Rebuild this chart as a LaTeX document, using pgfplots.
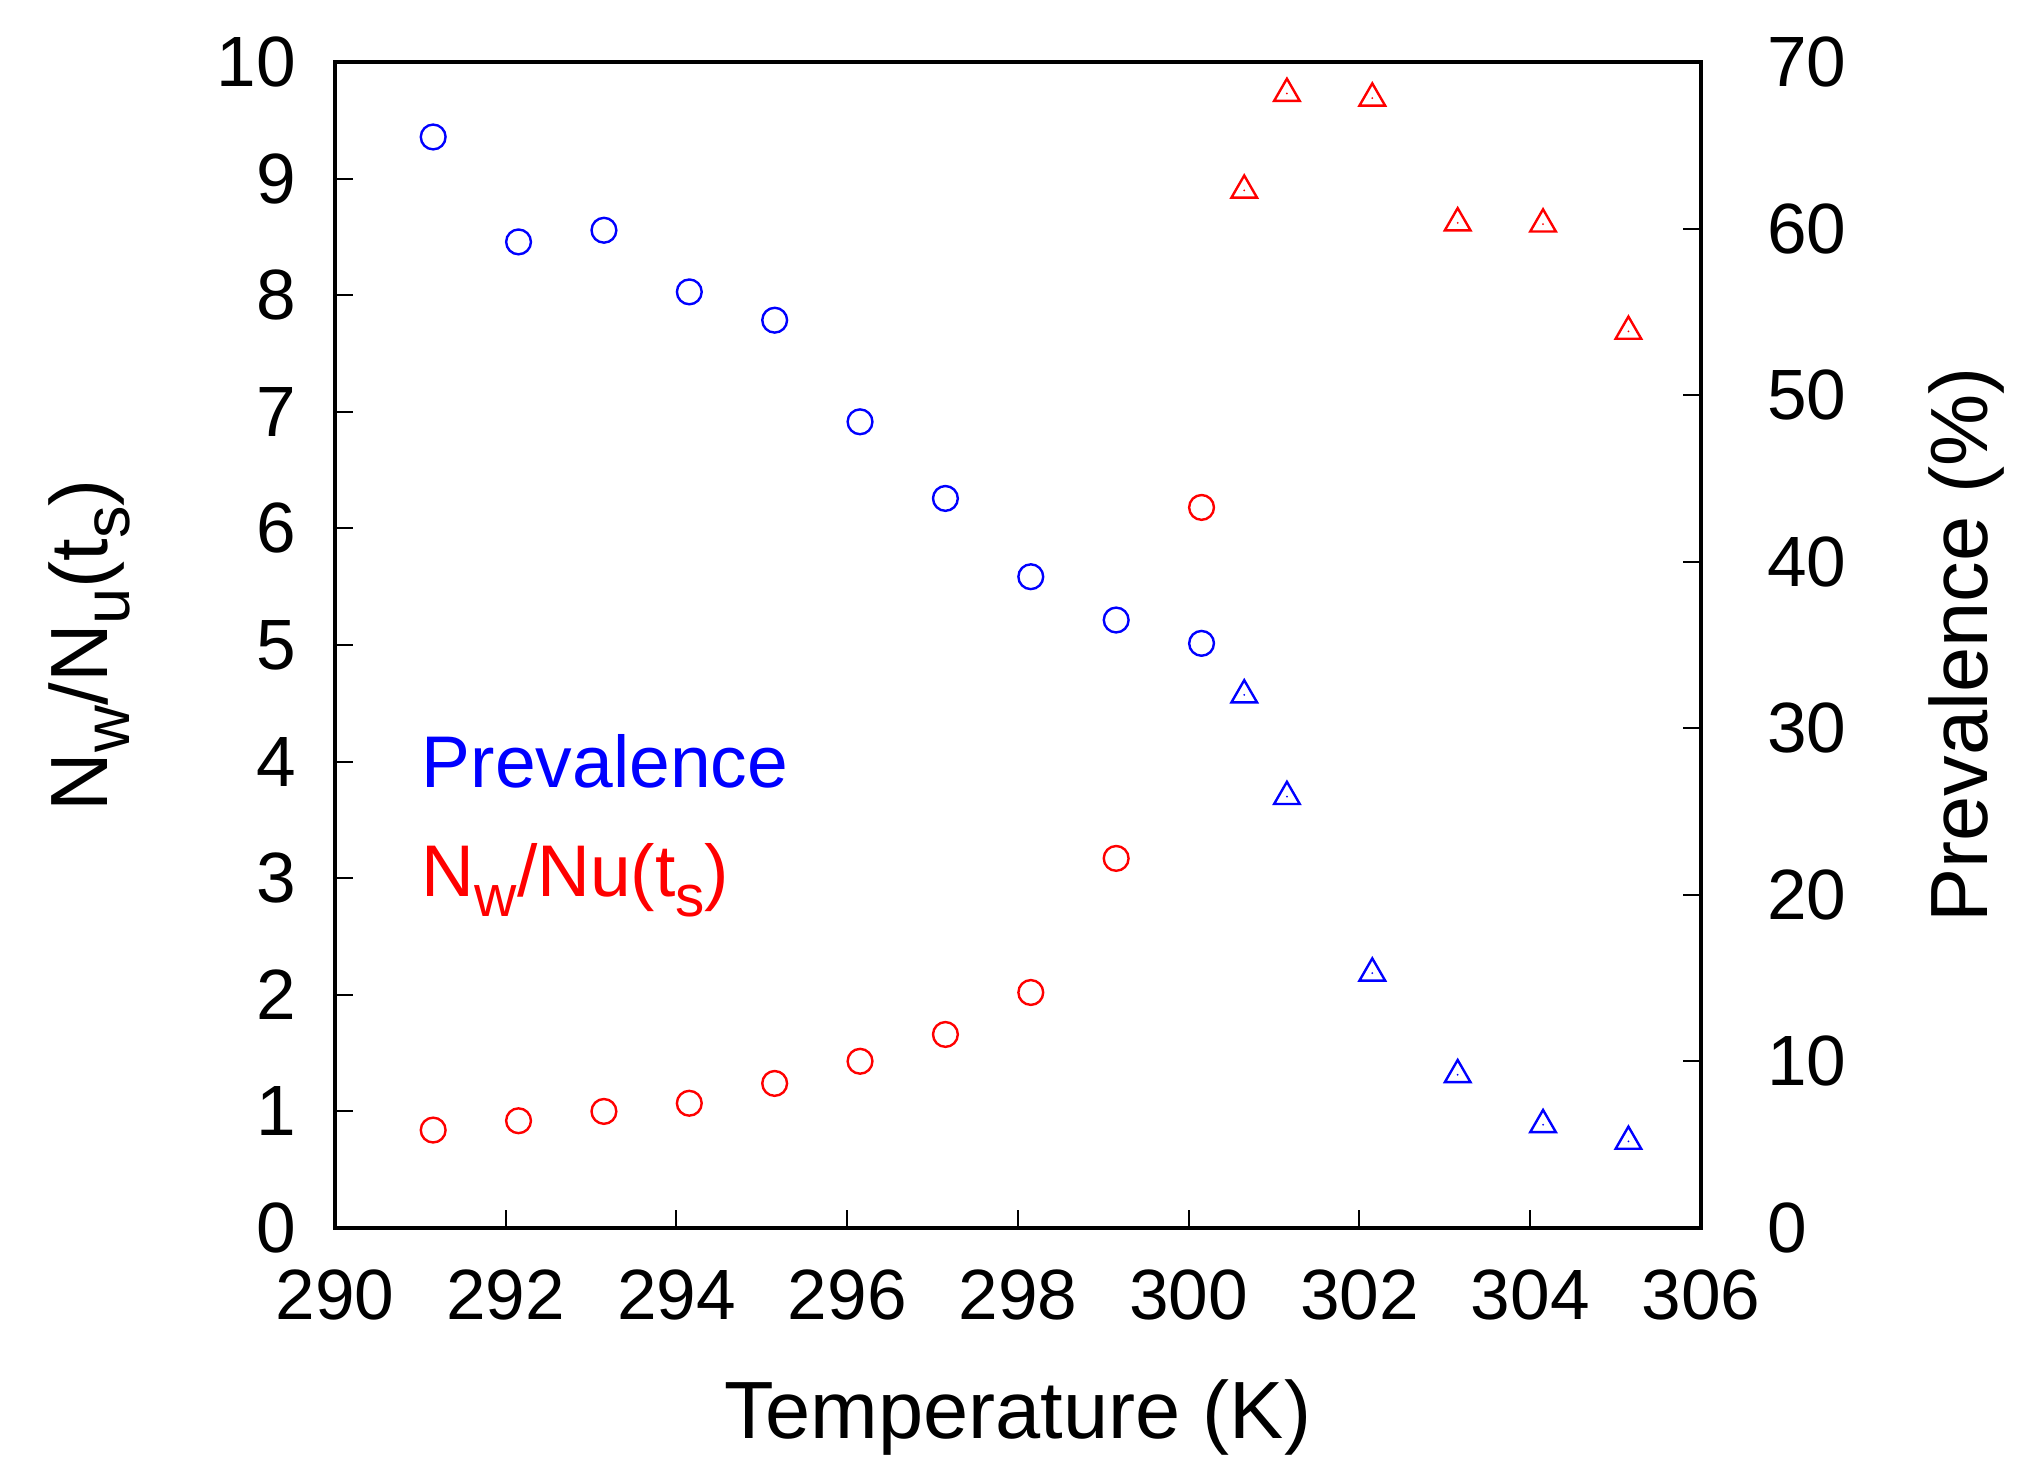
\documentclass[border=0pt]{standalone}
\usepackage{fontspec}
\setmainfont{Liberation Sans}
\usepackage{pgfplots}
\pgfplotsset{compat=1.18}

\definecolor{gpblue}{RGB}{0,0,255}
\definecolor{gpred}{RGB}{255,0,0}

% gnuplot-like lowered subscript
\newcommand{\sub}[1]{\raisebox{-0.27em}{\fontsize{0.8em}{1em}\selectfont #1}}
\newcommand{\bigfont}{\fontsize{17.8}{20}\selectfont}
\newcommand{\labfont}{\fontsize{20.3}{22}\selectfont}
\newcommand{\keyfont}{\fontsize{18.3}{20}\selectfont}

% triangle with a dot in the middle
\pgfdeclareplotmark{tridot}{%
  \pgfpathmoveto{\pgfqpoint{0pt}{\pgfplotmarksize}}%
  \pgfpathlineto{\pgfqpointpolar{-30}{\pgfplotmarksize}}%
  \pgfpathlineto{\pgfqpointpolar{210}{\pgfplotmarksize}}%
  \pgfpathclose
  \pgfusepathqstroke
  \pgfpathcircle{\pgfpointorigin}{0.25pt}%
  \pgfusepathqfill}

\pgfplotsset{
  gp/.style={
    scale only axis, width=341.5pt, height=291.5pt,
    xmin=290, xmax=306, xtick={290,292,...,306},
    xtick pos=bottom,
    tick align=inside, major tick length=4.4pt,
    every tick/.style={line width=0.5pt, black},
    axis line style={line width=0.8pt},
    ticklabel style={font=\bigfont},
    /pgf/number format/assume math mode=true,
    /pgf/number format/1000 sep={},
    xticklabel style={yshift=-7pt},
  },
}

\begin{document}
\begin{tikzpicture}
\useasboundingbox (-83.75pt,-58.25pt) rectangle (423pt,307pt);

\begin{axis}[gp,
    ymin=0, ymax=10, ytick={0,1,...,10},
    ytick pos=left,
    yticklabel style={xshift=-6.3pt},
    xlabel={Temperature (K)},
    ylabel={N\sub{w}/N\sub{u}(t\sub{s})},
    every axis x label/.style={at={(axis description cs:0.5,-0.1801)}, anchor=base, font=\labfont},
    every axis y label/.style={at={(axis description cs:-0.1662,0.5)}, rotate=90, anchor=base, font=\labfont},
  ]
  % N_w/N_u(t_s), circles
  \addplot[only marks, gpred, mark=o, mark size=3.1pt, mark options={line width=0.6pt}]
    coordinates {(291.15,0.84) (292.15,0.92) (293.15,1.00) (294.15,1.07)
      (295.15,1.24) (296.15,1.43) (297.15,1.66) (298.15,2.02)
      (299.15,3.17) (300.15,6.18)};
  % N_w/N_u(t_s), triangles
  \addplot[only marks, gpred, mark=tridot, mark size=3.7pt, mark options={line width=0.6pt}]
    coordinates {(300.65,8.90) (301.15,9.73) (302.15,9.69) (303.15,8.62)
      (304.15,8.61) (305.15,7.69)};

  \node[anchor=base west, inner sep=0pt, text=gpblue, font=\keyfont]
    at (axis description cs:0.063,0.3774) {Prevalence};
  \node[anchor=base west, inner sep=0pt, text=gpred, font=\keyfont]
    at (axis description cs:0.063,0.2839) {N\sub{w}/Nu(t\sub{s})};
\end{axis}

\begin{axis}[gp,
    ymin=0, ymax=70, ytick={0,10,...,70},
    ytick pos=right, axis x line=none,
    yticklabel style={xshift=13pt},
    ylabel={Prevalence (\%)},
    every axis y label/.style={at={(axis description cs:1.2094,0.5)}, rotate=90, anchor=base, font=\labfont},
  ]
  % prevalence (%), circles
  \addplot[only marks, gpblue, mark=o, mark size=3.1pt, mark options={line width=0.6pt}]
    coordinates {(291.15,65.5) (292.15,59.2) (293.15,59.9) (294.15,56.2)
      (295.15,54.5) (296.15,48.4) (297.15,43.8) (298.15,39.1)
      (299.15,36.5) (300.15,35.1)};
  % prevalence (%), triangles
  \addplot[only marks, gpblue, mark=tridot, mark size=3.7pt, mark options={line width=0.6pt}]
    coordinates {(300.65,32.0) (301.15,25.9) (302.15,15.3) (303.15,9.2)
      (304.15,6.2) (305.15,5.2)};
\end{axis}
\end{tikzpicture}
\end{document}
